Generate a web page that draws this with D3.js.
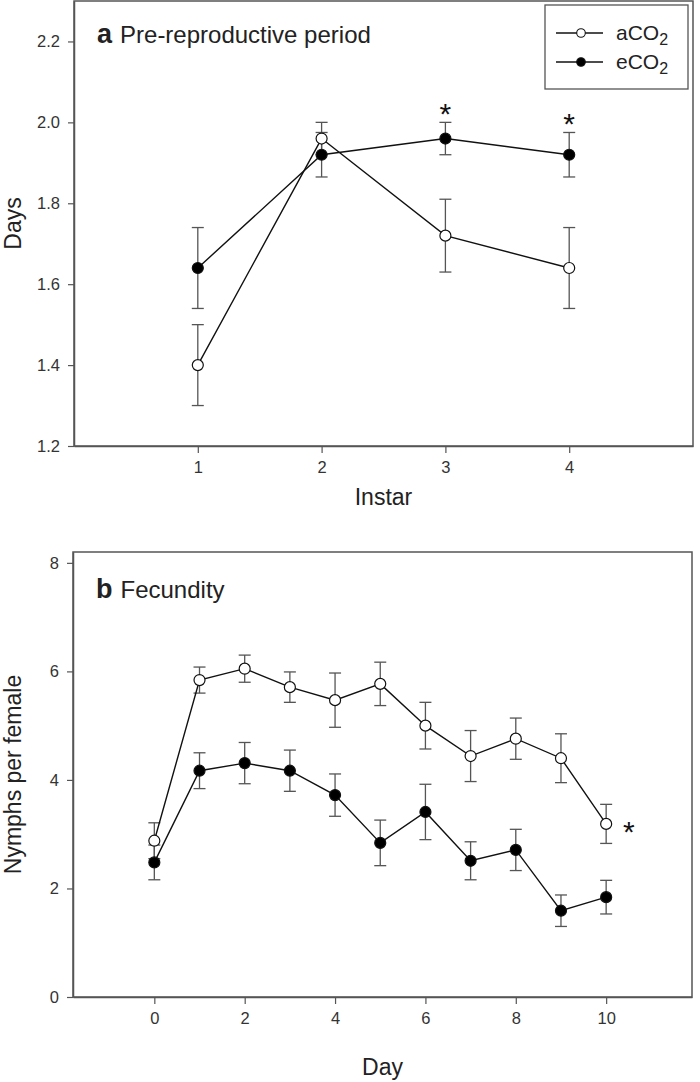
<!DOCTYPE html>
<html><head><meta charset="utf-8">
<script src="https://cdn.jsdelivr.net/npm/d3@7"></script>
<style>
body{margin:0;background:#fff;}
svg{display:block;font-family:"Liberation Sans",Arial,sans-serif;}
</style></head>
<body><svg id="c" width="700" height="1082"></svg>
<script>
// ---- Data ----
const instars = [1, 2, 3, 4];
const aPre = [1.40, 1.96, 1.72, 1.64];
const aPreSE = [0.10, 0.04, 0.09, 0.10];
const ePre = [1.64, 1.92, 1.96, 1.92];
const ePreSE = [0.10, 0.055, 0.04, 0.055];
const preStars = [3, 4];

const days = [0, 1, 2, 3, 4, 5, 6, 7, 8, 9, 10];
const aFec = [2.88, 5.84, 6.05, 5.71, 5.47, 5.77, 5.00, 4.44, 4.76, 4.40, 3.19];
const aFecSE = [0.33, 0.24, 0.25, 0.28, 0.50, 0.40, 0.43, 0.47, 0.38, 0.45, 0.36];
const eFec = [2.48, 4.17, 4.31, 4.17, 3.72, 2.84, 3.41, 2.51, 2.71, 1.59, 1.84];
const eFecSE = [0.32, 0.33, 0.38, 0.38, 0.39, 0.42, 0.51, 0.35, 0.38, 0.29, 0.31];

const preYTicks = [1.2, 1.4, 1.6, 1.8, 2.0, 2.2];
const preXTicks = [1, 2, 3, 4];
const fecYTicks = [0, 2, 4, 6, 8];
const fecXTicks = [0, 2, 4, 6, 8, 10];

const svg = d3.select("#c");
const axisCol = "#555", textCol = "#333", errCol = "#555";

function panel(cfg) {
  const x = d3.scaleLinear().domain(cfg.xDom).range([cfg.left, cfg.right]);
  const y = d3.scaleLinear().domain(cfg.yDom).range([cfg.bottom, cfg.top]);
  const g = svg.append("g");
  g.append("rect").attr("x", cfg.left).attr("y", cfg.top)
    .attr("width", cfg.right - cfg.left).attr("height", cfg.bottom - cfg.top)
    .attr("fill", "none").attr("stroke", axisCol).attr("stroke-width", 1.5);
  const ax = g.append("g").attr("transform", `translate(0,${cfg.bottom})`)
    .call(d3.axisBottom(x).tickValues(cfg.xTicks).tickSize(7).tickSizeOuter(0).tickPadding(8).tickFormat(d3.format("d")));
  const ay = g.append("g").attr("transform", `translate(${cfg.left},0)`)
    .call(d3.axisLeft(y).tickValues(cfg.yTicks).tickSize(6).tickSizeOuter(0).tickPadding(8).tickFormat(cfg.yFmt));
  [ax, ay].forEach(a => {
    a.attr("font-size", null).attr("font-family", null);
    a.select(".domain").attr("stroke", axisCol).attr("stroke-width", 1.5);
    a.selectAll(".tick line").attr("stroke", axisCol).attr("stroke-width", 1.2);
    a.selectAll(".tick text").attr("fill", textCol).style("font-size", "16.5px");
  });
  g.append("text").attr("x", (cfg.left + cfg.right) / 2).attr("y", cfg.xLabY)
    .attr("text-anchor", "middle").attr("fill", "#222").style("font-size", "23px").text(cfg.xLabel);
  g.append("text").attr("transform", `translate(21,${(cfg.top + cfg.bottom) / 2}) rotate(-90)`)
    .attr("text-anchor", "middle").attr("fill", "#222").style("font-size", "23px").text(cfg.yLabel);
  const t = g.append("text").attr("x", cfg.left + 23).attr("y", cfg.top + cfg.titleDy).attr("fill", "#222");
  t.append("tspan").style("font-weight", "bold").style("font-size", "27px").text(cfg.letter);
  t.append("tspan").attr("dx", 8).style("font-size", "24px").text(cfg.title);

  const series = [
    {xs: cfg.xs, v: cfg.a, se: cfg.aSE, fill: "#fff"},
    {xs: cfg.xs, v: cfg.e, se: cfg.eSE, fill: "#000"}
  ];
  const cap = 6;
  series.forEach(s => {
    const eg = g.append("g");
    s.xs.forEach((d, i) => {
      const x0 = x(d), yt = y(s.v[i] + s.se[i]), yb = y(s.v[i] - s.se[i]);
      eg.append("line").attr("x1", x0).attr("x2", x0).attr("y1", yt).attr("y2", yb);
      eg.append("line").attr("x1", x0 - cap).attr("x2", x0 + cap).attr("y1", yt).attr("y2", yt);
      eg.append("line").attr("x1", x0 - cap).attr("x2", x0 + cap).attr("y1", yb).attr("y2", yb);
    });
    eg.attr("stroke", errCol).attr("stroke-width", 1.3);
  });
  const line = d3.line().x(d => x(d[0])).y(d => y(d[1]));
  series.forEach(s => {
    g.append("path").datum(s.xs.map((d, i) => [d, s.v[i]])).attr("d", line)
      .attr("fill", "none").attr("stroke", "#111").attr("stroke-width", 1.4);
  });
  series.forEach(s => {
    g.selectAll(null).data(s.xs.map((d, i) => [d, s.v[i]])).enter().append("circle")
      .attr("cx", d => x(d[0])).attr("cy", d => y(d[1])).attr("r", 5.5)
      .attr("fill", s.fill).attr("stroke", "#111").attr("stroke-width", 1.2);
  });
  return {x, y, g};
}

// ---- Panel a ----
const pa = panel({
  xDom: [0, 5], yDom: [1.2, 2.3], left: 74, right: 693, top: 1, bottom: 446,
  xTicks: preXTicks, yTicks: preYTicks, yFmt: d3.format(".1f"),
  xLabel: "Instar", xLabY: 505, yLabel: "Days",
  letter: "a", title: "Pre-reproductive period", titleDy: 42,
  xs: instars, a: aPre, aSE: aPreSE, e: ePre, eSE: ePreSE
});
preStars.forEach(s => {
  const i = instars.indexOf(s);
  pa.g.append("text").attr("x", pa.x(s)).attr("y", pa.y(ePre[i] + ePreSE[i]) + 2)
    .attr("text-anchor", "middle").style("font-size", "30px").attr("fill", "#111").text("*");
});
// legend
const lg = svg.append("g");
lg.append("rect").attr("x", 545).attr("y", 5).attr("width", 143).attr("height", 84)
  .attr("fill", "#fff").attr("stroke", axisCol).attr("stroke-width", 1.3);
const legendItems = [{name: "aCO", fill: "#fff"}, {name: "eCO", fill: "#000"}];
legendItems.forEach((d, i) => {
  const yy = 33 + i * 29;
  lg.append("line").attr("x1", 556).attr("x2", 603).attr("y1", yy).attr("y2", yy)
    .attr("stroke", "#111").attr("stroke-width", 1.3);
  lg.append("circle").attr("cx", 581).attr("cy", yy).attr("r", 4.3)
    .attr("fill", d.fill).attr("stroke", "#111").attr("stroke-width", 1.1);
  const t = lg.append("text").attr("x", 616).attr("y", yy + 7).attr("fill", "#222").style("font-size", "21px");
  t.append("tspan").text(d.name);
  t.append("tspan").attr("dy", 5).style("font-size", "16px").text("2");
});

// ---- Panel b ----
const pb = panel({
  xDom: [-1.8, 11.9], yDom: [0, 8.2], left: 73, right: 692, top: 552, bottom: 997,
  xTicks: fecXTicks, yTicks: fecYTicks, yFmt: d3.format("d"),
  xLabel: "Day", xLabY: 1075, yLabel: "Nymphs per female",
  letter: "b", title: "Fecundity", titleDy: 46,
  xs: days, a: aFec, aSE: aFecSE, e: eFec, eSE: eFecSE
});
pb.g.append("text").attr("x", pb.x(10.5)).attr("y", pb.y(aFec[10]) + 18)
  .attr("text-anchor", "middle").style("font-size", "30px").attr("fill", "#111").text("*");
</script></body></html>
